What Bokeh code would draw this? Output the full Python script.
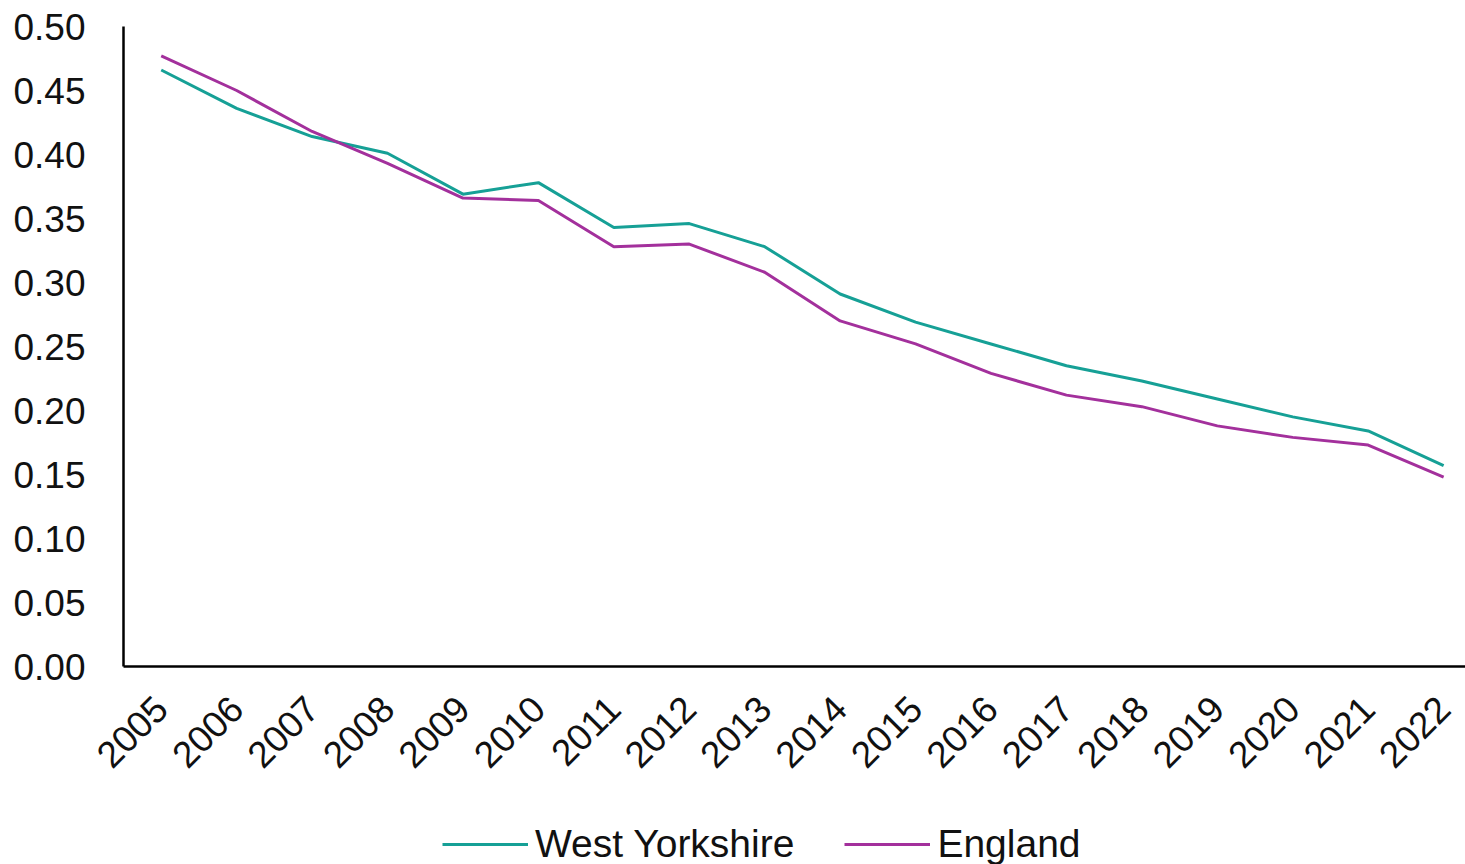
from bokeh.plotting import figure
from bokeh.models import (FixedTicker, Legend, LegendItem, Range1d, LinearAxis,
                          CustomJSTickFormatter)
from bokeh.embed import file_html
from bokeh.resources import INLINE
import math

years = [2005, 2006, 2007, 2008, 2009, 2010, 2011, 2012, 2013,
         2014, 2015, 2016, 2017, 2018, 2019, 2020, 2021, 2022]
west_yorkshire = [0.466, 0.436, 0.414, 0.401, 0.369, 0.378, 0.343, 0.346, 0.328,
                  0.291, 0.269, 0.252, 0.235, 0.223, 0.209, 0.195, 0.184, 0.157]
england = [0.477, 0.450, 0.418, 0.393, 0.366, 0.364, 0.328, 0.330, 0.308,
           0.270, 0.252, 0.229, 0.212, 0.203, 0.188, 0.179, 0.173, 0.148]
y_ticks = [0.0, 0.05, 0.10, 0.15, 0.20, 0.25, 0.30, 0.35, 0.40, 0.45, 0.50]

TEAL = "#16a096"
PURPLE = "#a3309c"
FONT = "Liberation Sans"

X_START, X_END = 2004.5, 2022.29
PX_PER_YEAR = 1342 / (X_END - X_START)
UNITS_PER_PX = 0.5 / 640

# The frame fills the whole page; both axes are pinned inside it
# (y axis at the first category edge, x axis at y=0) so the space around
# them holds the tick labels and the legend without being clipped.
p = figure(width=1465, height=864, output_backend="svg", toolbar_location=None,
           x_range=Range1d(X_START - 123 / PX_PER_YEAR, X_END),
           y_range=Range1d(-198 * UNITS_PER_PX, 0.5 + 26 * UNITS_PER_PX),
           x_axis_type=None, y_axis_type=None,
           min_border_left=0, min_border_right=0, min_border_top=0,
           min_border_bottom=0, outline_line_color=None)

r1 = p.line(years, west_yorkshire, line_color=TEAL, line_width=3)
r2 = p.line(years, england, line_color=PURPLE, line_width=3)

xaxis = LinearAxis(fixed_location=0, bounds=(X_START, X_END))
yaxis = LinearAxis(fixed_location=X_START, bounds=(0, 0.5))
p.add_layout(xaxis, "below")
p.add_layout(yaxis, "left")

for ax in (xaxis, yaxis):
    ax.axis_line_color = "black"
    ax.axis_line_width = 2.5
    ax.major_tick_line_color = None
    ax.minor_tick_line_color = None
    ax.major_label_text_font = FONT
    ax.major_label_text_font_size = "37px"
    ax.major_label_text_color = "#111111"

yaxis.ticker = FixedTicker(ticks=y_ticks)
yaxis.formatter = CustomJSTickFormatter(code="return tick.toFixed(2);")
yaxis.major_label_standoff = 32

xaxis.ticker = FixedTicker(ticks=years)
xaxis.formatter = CustomJSTickFormatter(code="return tick.toFixed(0);")
xaxis.major_label_orientation = math.pi / 4
xaxis.major_label_standoff = 30

legend = Legend(items=[LegendItem(label="West Yorkshire", renderers=[r1]),
                       LegendItem(label="England", renderers=[r2])],
                orientation="horizontal", location=(442, -2),
                label_text_font=FONT, label_text_font_size="39px",
                label_text_color="#111111",
                glyph_width=86, glyph_height=30, label_standoff=7, spacing=50,
                border_line_color=None, background_fill_alpha=0,
                padding=2, margin=0)
p.add_layout(legend, "center")

open("out.html", "w").write(file_html(p, INLINE))
